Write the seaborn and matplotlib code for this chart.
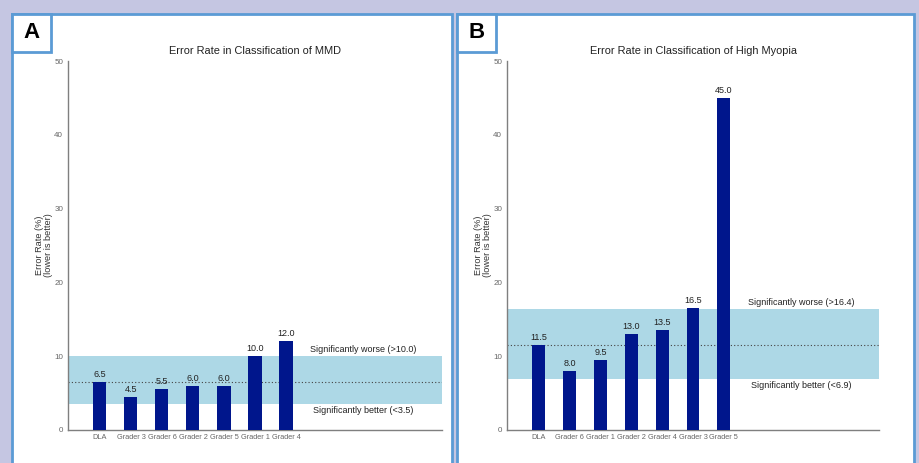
import matplotlib
matplotlib.use("Agg")
import matplotlib.pyplot as plt
import seaborn as sns
import pandas as pd
from matplotlib.patches import Rectangle

# panel A: MMD
mmd_graders = ["DLA", "Grader 3", "Grader 6", "Grader 2", "Grader 5", "Grader 1", "Grader 4"]
mmd_errors = [6.5, 4.5, 5.5, 6.0, 6.0, 10.0, 12.0]
mmd_band = (3.5, 10.0)

# panel B: high myopia
hm_graders = ["DLA", "Grader 6", "Grader 1", "Grader 2", "Grader 4", "Grader 3", "Grader 5"]
hm_errors = [11.5, 8.0, 9.5, 13.0, 13.5, 16.5, 45.0]
hm_band = (6.9, 16.4)

W, H = 919, 463
BAR = "#00168c"
BAND = "#add8e6"
BORDER = "#5b9bd5"

sns.set_style("white")
plt.rcParams['font.family'] = ['Liberation Sans', 'DejaVu Sans']

fig = plt.figure(figsize=(W / 100, H / 100), dpi=100)
fig.patch.set_facecolor("#c5c6e2")


def px(x0, y0, x1, y1):
    # pixel box -> figure fraction rect
    return [x0 / W, 1 - y1 / H, (x1 - x0) / W, (y1 - y0) / H]


def panel_frame(x0, x1, letter):
    fig.patches.append(Rectangle((x0 / W, -0.05), (x1 - x0) / W, 1 - 13.5 / H + 0.05,
                                 transform=fig.transFigure, facecolor="white",
                                 edgecolor=BORDER, linewidth=2.0, zorder=-2))
    fig.patches.append(Rectangle((x0 / W, 1 - 52 / H), 39 / W, 38.5 / H,
                                 transform=fig.transFigure, facecolor="white",
                                 edgecolor=BORDER, linewidth=2.0, zorder=-1))
    fig.text((x0 + 20) / W, 1 - 33 / H, letter, ha="center", va="center",
             fontsize=16, fontweight="bold", color="black")


def error_panel(ax, graders, errors, band, title):
    df = pd.DataFrame({"grader": graders, "error": errors})
    sns.barplot(data=df, x="grader", y="error", order=graders, color=BAR,
                saturation=1, width=0.42, edgecolor="none", linewidth=0,
                ax=ax, zorder=3)
    lo, hi = band
    ax.axhspan(lo, hi, color=BAND, zorder=1, lw=0)
    ax.axhline(errors[0], color="#444444", ls=(0, (1, 2)), lw=0.8, zorder=2)
    for i, v in enumerate(errors):
        ax.text(i, v + 0.4, f"{v:.1f}", ha="center", va="bottom", fontsize=6.5,
                color="#222222", zorder=4)
    ax.text(8.5, hi + 0.3, f"Significantly worse (>{hi:.1f})", ha="center",
            va="bottom", fontsize=6.5, color="#222222")
    ax.text(8.5, lo - 0.3, f"Significantly better (<{lo:.1f})", ha="center",
            va="top", fontsize=6.5, color="#222222")
    ax.set_xlim(-1.03, 11.03)
    ax.set_ylim(0, 50)
    ax.set_yticks([0, 10, 20, 30, 40, 50])
    ax.set_title(title, fontsize=7.9, color="#222222", pad=5)
    ax.set_xlabel("")
    ax.set_ylabel("Error Rate (%)\n(lower is better)", fontsize=6.6, color="#333333",
                  labelpad=1, linespacing=1.0)
    ax.set_facecolor("none")
    for s in ["top", "right"]:
        ax.spines[s].set_visible(False)
    for s in ["left", "bottom"]:
        ax.spines[s].set_color("#7f7f7f")
        ax.spines[s].set_linewidth(1.0)
    ax.tick_params(axis="y", labelsize=5.8, colors="#7f7f7f", labelcolor="#666666",
                   length=2, width=0.6, pad=1.5)
    ax.tick_params(axis="x", labelsize=5.3, labelcolor="#666666", length=0, pad=3)


panel_frame(12, 452, "A")
panel_frame(457, 914, "B")

ax_a = fig.add_axes(px(68, 61, 442, 430))
error_panel(ax_a, mmd_graders, mmd_errors, mmd_band, "Error Rate in Classification of MMD")

ax_b = fig.add_axes(px(507, 61, 879, 430))
error_panel(ax_b, hm_graders, hm_errors, hm_band, "Error Rate in Classification of High Myopia")

fig.savefig("out.png", dpi=100, facecolor=fig.get_facecolor())
